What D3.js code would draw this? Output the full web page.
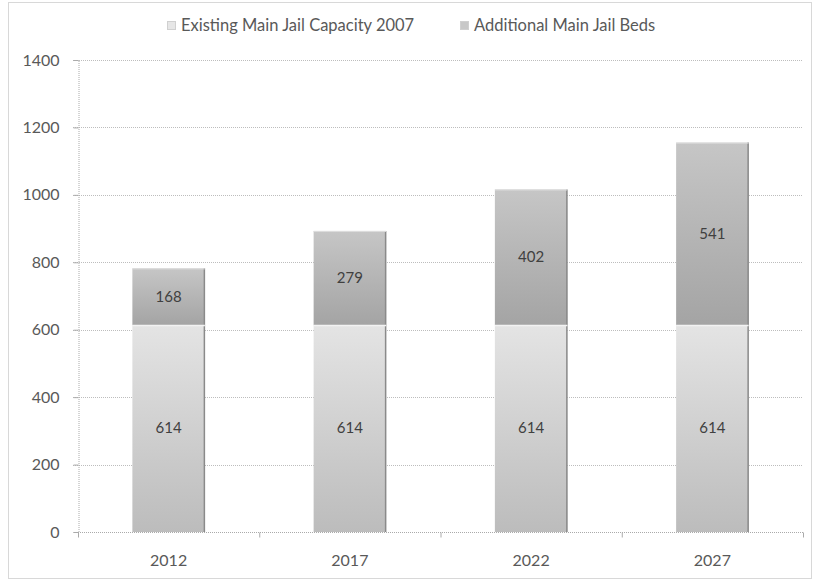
<!DOCTYPE html>
<html><head><meta charset="utf-8">
<script src="https://cdn.jsdelivr.net/npm/d3@7"></script>
<style>
html,body{margin:0;padding:0;background:#fff;}
svg{display:block;font-family:Lato,"Open Sans",sans-serif;}
</style></head>
<body><svg id="chart" width="814" height="581"></svg>
<script>
const categories = ["2012", "2017", "2022", "2027"];
const existing = [614, 614, 614, 614];
const additional = [168, 279, 402, 541];
const seriesNames = ["Existing Main Jail Capacity 2007", "Additional Main Jail Beds"];
const yTicks = [0, 200, 400, 600, 800, 1000, 1200, 1400];

const svg = d3.select("#chart");
const W = 814, H = 581;
const m = {left: 78, right: 11, top: 60, bottom: 49};
const x = d3.scaleBand().domain(categories).range([m.left, W - m.right]).paddingInner(0.6).paddingOuter(0.3);
const y = d3.scaleLinear().domain([0, 1400]).range([H - m.bottom, m.top]);

const defs = svg.append("defs");
const g1 = defs.append("linearGradient").attr("id", "gBottom").attr("x1", 0).attr("y1", 0).attr("x2", 0).attr("y2", 1);
g1.append("stop").attr("offset", "0%").attr("stop-color", "#e4e4e4");
g1.append("stop").attr("offset", "100%").attr("stop-color", "#bcbcbc");
const g2 = defs.append("linearGradient").attr("id", "gTop").attr("x1", 0).attr("y1", 0).attr("x2", 0).attr("y2", 1);
g2.append("stop").attr("offset", "0%").attr("stop-color", "#c6c6c6");
g2.append("stop").attr("offset", "100%").attr("stop-color", "#a4a4a4");

// outer frame
svg.append("rect").attr("x", 8.5).attr("y", 2.5).attr("width", 803).attr("height", 576)
  .attr("fill", "none").attr("stroke", "#b0b0b0").attr("stroke-dasharray", "1,1");

// gridlines
svg.append("g").selectAll("line").data(yTicks.filter(d => d > 0)).join("line")
  .attr("x1", m.left - 5).attr("x2", W - m.right - 0)
  .attr("y1", d => Math.round(y(d)) + 0.5).attr("y2", d => Math.round(y(d)) + 0.5)
  .attr("stroke", "#bdbdbd").attr("stroke-dasharray", "1,1");

// y axis
const yAxis = svg.append("g").attr("transform", `translate(${m.left + 0.5},0)`)
  .call(d3.axisLeft(y).tickValues(yTicks).tickFormat(d3.format("d")).tickSize(5).tickPadding(14));
yAxis.select(".domain").attr("stroke", "#aaa").attr("stroke-dasharray", "1,1");
yAxis.selectAll(".tick line").attr("stroke", "#aaa");
yAxis.selectAll("text").attr("fill", "#595959").style("font-size", "16px").style("font-family", "Lato, sans-serif");

// x axis
const xAxis = svg.append("g").attr("transform", `translate(0,${Math.round(y(0)) + 0.5})`)
  .call(d3.axisBottom(x).tickSize(0).tickPadding(22));
xAxis.select(".domain").remove();
xAxis.append("line").attr("x1", m.left).attr("x2", W - m.right).attr("stroke", "#aaa").attr("stroke-dasharray", "1,1");
xAxis.selectAll(".bnd").data(d3.range(categories.length + 1)).join("line")
  .attr("x1", i => m.left + (W - m.left - m.right) * i / categories.length + 0.5)
  .attr("x2", i => m.left + (W - m.left - m.right) * i / categories.length + 0.5)
  .attr("y1", 0).attr("y2", 5).attr("stroke", "#aaa");
xAxis.selectAll("text").attr("fill", "#595959").style("font-size", "16px").style("font-family", "Lato, sans-serif");

// bars
const bars = svg.append("g");
categories.forEach((c, i) => {
  const x0 = x(c), bw = x.bandwidth();
  const yb0 = y(0), yb1 = y(existing[i]), yt1 = y(existing[i] + additional[i]);
  bars.append("rect").attr("x", x0).attr("y", yb1).attr("width", bw).attr("height", yb0 - yb1)
    .attr("fill", "url(#gBottom)");
  bars.append("rect").attr("x", x0).attr("y", yt1).attr("width", bw).attr("height", yb1 - yt1)
    .attr("fill", "url(#gTop)");
  bars.append("line").attr("x1", x0 + bw - 0.5).attr("x2", x0 + bw - 0.5).attr("y1", yt1).attr("y2", yb0)
    .attr("stroke", "#8a8a8a").attr("stroke-width", 1.5);
  bars.append("line").attr("x1", x0).attr("x2", x0 + bw).attr("y1", yb1 + 0.5).attr("y2", yb1 + 0.5)
    .attr("stroke", "#f2f2f2").attr("stroke-width", 1.5);
  bars.append("line").attr("x1", x0).attr("x2", x0 + bw).attr("y1", yt1 + 0.5).attr("y2", yt1 + 0.5)
    .attr("stroke", "#dedede").attr("stroke-width", 1);
  bars.append("text").attr("x", x0 + bw / 2).attr("y", (yb0 + yb1) / 2 + 5).attr("text-anchor", "middle")
    .attr("fill", "#404040").style("font-size", "15px").text(existing[i]);
  bars.append("text").attr("x", x0 + bw / 2).attr("y", (yb1 + yt1) / 2 + 5).attr("text-anchor", "middle")
    .attr("fill", "#404040").style("font-size", "15px").text(additional[i]);
});

// legend
const legendX = [167, 460];
const legendFill = ["#e6e6e6", "#c8c8c8"];
seriesNames.forEach((s, i) => {
  svg.append("rect").attr("x", legendX[i] + 0.5).attr("y", 21.5).attr("width", 8).attr("height", 8)
    .attr("fill", legendFill[i]).attr("stroke", "#d0d0d0");
  svg.append("text").attr("x", legendX[i] + 14).attr("y", 31).attr("fill", "#595959")
    .style("font-size", "16.5px").text(s);
});
</script></body></html>
